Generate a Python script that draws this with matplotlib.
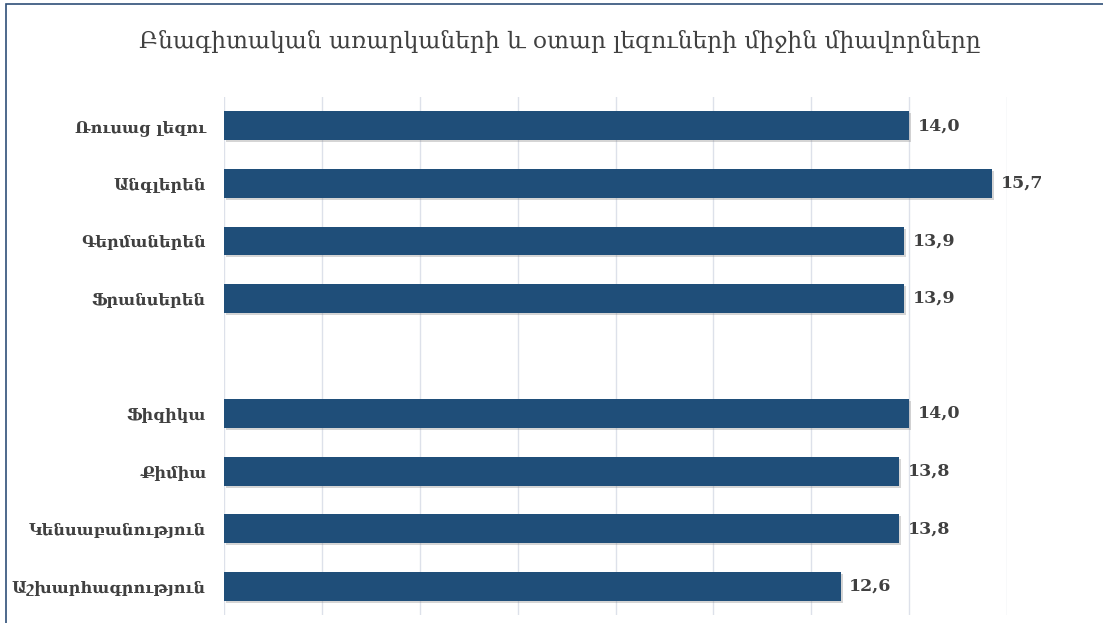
import matplotlib.pyplot as plt
import matplotlib.patheffects as pe
from matplotlib.patches import Rectangle

plt.rcParams['font.family'] = ['DejaVu Serif', 'DejaVu Sans']

# Data
subjects = ['Ռուսաց լեզու', 'Անգլերեն', 'Գերմաներեն', 'Ֆրանսերեն', '',
            'Ֆիզիկա', 'Քիմիա', 'Կենսաբանություն', 'Աշխարհագրություն']
scores = [14.0, 15.7, 13.9, 13.9, None, 14.0, 13.8, 13.8, 12.6]
title = 'Բնագիտական առարկաների և օտար լեզուների միջին միավորները'

bar_color = '#1f4e79'
text_color = '#404040'

fig = plt.figure(figsize=(11.03, 6.23), dpi=100)
ax = fig.add_axes([0.2031, 0.0128, 0.7099, 0.8315])

# frame around the chart area
fig.patches.append(Rectangle((0.0055, -0.05), 1.2, 1.043, transform=fig.transFigure,
                             fill=False, edgecolor='#2f4f78', linewidth=1.2))

pos = list(range(len(subjects)))
shadow = [pe.SimplePatchShadow(offset=(1.5, -1.5), shadow_rgbFace='#777777', alpha=0.3), pe.Normal()]
for i, v in zip(pos, scores):
    if v is None:
        continue
    ax.barh(i, v, height=0.5, color=bar_color, zorder=3, path_effects=shadow)
    ax.text(v + 0.17, i, f'{v:.1f}'.replace('.', ','), va='center', ha='left',
            fontsize=12.5, fontweight='bold', color=text_color)

ax.set_xlim(0, 16)
ax.set_ylim(len(subjects) - 0.5, -0.5)
ax.set_xticks(range(0, 17, 2))
ax.set_yticks(pos)
ax.set_yticklabels(subjects, fontsize=11.6, fontweight='bold', color=text_color)
ax.tick_params(axis='y', length=0, pad=13)
ax.tick_params(axis='x', length=0, labelbottom=False)
ax.grid(axis='x', color='#dde1ea', linewidth=1, zorder=0)
for s in ax.spines.values():
    s.set_visible(False)

fig.text(0.508, 0.9326, title, ha='center', va='center', fontsize=16.8, color=text_color)

fig.savefig('out.png', dpi=100)
